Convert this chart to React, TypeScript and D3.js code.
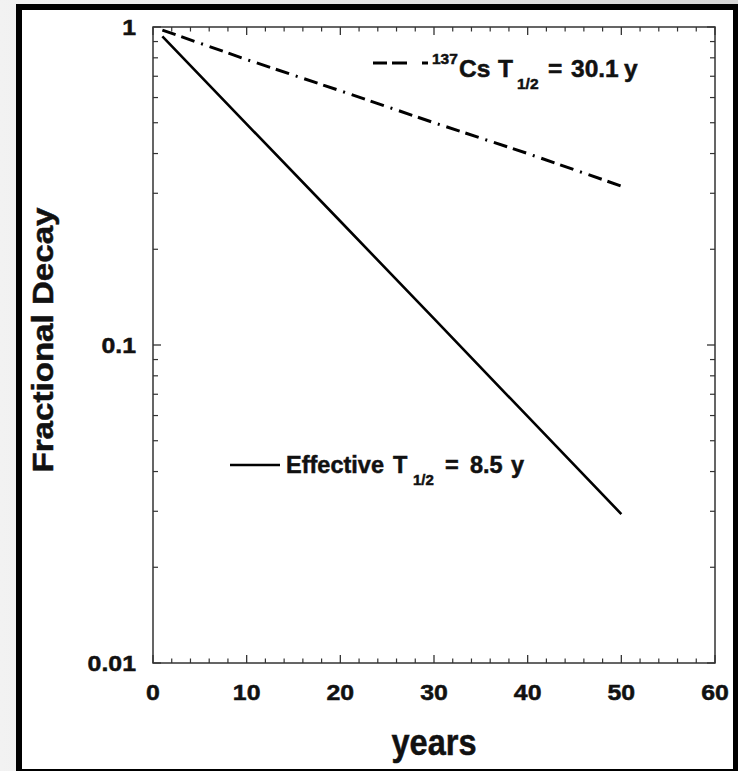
import React from "react";
import * as d3 from "d3";

const years = [1, 10, 20, 30, 40, 50];
const csValues = [0.978, 0.79, 0.63, 0.5, 0.4, 0.316];
const effValues = [0.935, 0.495, 0.245, 0.121, 0.0596, 0.0294];
const xTickValues = [0, 10, 20, 30, 40, 50, 60];
const yTickValues = [1, 0.1, 0.01];
const yTickLabels = ["1", "0.1", "0.01"];

const W = 738;
const H = 771;
const L = 153, R = 715, T = 27, B = 663;
const FONT = "'Liberation Sans', Arial, Helvetica, sans-serif";

export default function App() {
  const x = d3.scaleLinear().domain([0, 60]).range([L, R]);
  const y = d3.scaleLog().domain([0.01, 1]).range([B, T]);
  const line = d3
    .line<number>()
    .x((_, i) => x(years[i]))
    .y((d) => y(d));

  const xMinor = d3.range(0, 61, 2).filter((v) => v % 10 !== 0);
  const yMinor: number[] = [];
  [0.01, 0.1].forEach((dec) => {
    for (let k = 2; k <= 9; k++) yMinor.push(dec * k);
  });

  const axisColor = "#333";
  const txt = "#111";
  const heavy = { stroke: txt, strokeWidth: 0.5 };

  return (
    <div style={{ position: "absolute", left: 0, top: 0 }}>
      <svg width={W} height={H} style={{ display: "block" }}>
        <defs>
          <linearGradient id="bg" x1="0" y1="0" x2="1" y2="0">
            <stop offset="0" stopColor="#f2f2f2" />
            <stop offset="1" stopColor="#d6d6d6" />
          </linearGradient>
        </defs>
        <rect x={0} y={0} width={W} height={H} fill="url(#bg)" />
        <rect x={16} y={4} width={W - 16} height={H - 4} fill="#000" />
        <rect x={22} y={10} width={733 - 22} height={769 - 10} fill="#fff" />

        {/* plot frame */}
        <rect x={L} y={T} width={R - L} height={B - T} fill="none" stroke={axisColor} strokeWidth={1.5} />

        {/* x ticks bottom & top */}
        {xTickValues.map((v) => (
          <g key={"xt" + v}>
            <line x1={x(v)} x2={x(v)} y1={B} y2={B - 8} stroke={axisColor} strokeWidth={1.3} />
            <line x1={x(v)} x2={x(v)} y1={T} y2={T + 8} stroke={axisColor} strokeWidth={1.3} />
          </g>
        ))}
        {xMinor.map((v) => (
          <g key={"xm" + v}>
            <line x1={x(v)} x2={x(v)} y1={B} y2={B - 4.5} stroke={axisColor} strokeWidth={1.2} />
            <line x1={x(v)} x2={x(v)} y1={T} y2={T + 4.5} stroke={axisColor} strokeWidth={1.2} />
          </g>
        ))}
        {/* y ticks left & right */}
        {yTickValues.map((v) => (
          <g key={"yt" + v}>
            <line x1={L} x2={L + 8} y1={y(v)} y2={y(v)} stroke={axisColor} strokeWidth={1.3} />
            <line x1={R} x2={R - 8} y1={y(v)} y2={y(v)} stroke={axisColor} strokeWidth={1.3} />
          </g>
        ))}
        {yMinor.map((v) => (
          <g key={"ym" + v}>
            <line x1={L} x2={L + 5} y1={y(v)} y2={y(v)} stroke={axisColor} strokeWidth={1.2} />
            <line x1={R} x2={R - 5} y1={y(v)} y2={y(v)} stroke={axisColor} strokeWidth={1.2} />
          </g>
        ))}

        {/* tick labels */}
        {xTickValues.map((v) => (
          <text
            key={"xl" + v}
            transform={`translate(${x(v)},700) scale(1.13,1)`}
            textAnchor="middle"
            fontFamily={FONT}
            fontWeight="bold"
            fontSize={22}
            fill={txt}
            {...heavy}
          >
            {String(v)}
          </text>
        ))}
        {yTickValues.map((v, i) => (
          <text
            key={"yl" + v}
            transform={`translate(136,${y(v) + 8}) scale(1.13,1)`}
            textAnchor="end"
            fontFamily={FONT}
            fontWeight="bold"
            fontSize={22}
            fill={txt}
            {...heavy}
          >
            {yTickLabels[i]}
          </text>
        ))}

        {/* axis titles */}
        <text
          x={434}
          y={755}
          textAnchor="middle"
          fontFamily={FONT}
          fontWeight="bold"
          fontSize={36}
          textLength={85}
          lengthAdjust="spacingAndGlyphs"
          fill={txt}
          {...heavy}
        >
          years
        </text>
        <text
          transform="translate(53,340) rotate(-90)"
          textAnchor="middle"
          fontFamily={FONT}
          fontWeight="bold"
          fontSize={29}
          textLength={265}
          lengthAdjust="spacingAndGlyphs"
          fill={txt}
          {...heavy}
        >
          Fractional Decay
        </text>

        {/* series */}
        <path d={line(csValues) || ""} fill="none" stroke="#000" strokeWidth={3} strokeDasharray="14 6 14 7 2 7" />
        <path d={line(effValues) || ""} fill="none" stroke="#000" strokeWidth={2.6} />

        {/* legends */}
        <line x1={373} x2={428} y1={63} y2={63} stroke="#000" strokeWidth={3} strokeDasharray="14 5 15 15 6 40" />
        <text fontFamily={FONT} fontWeight="bold" fontSize={24.5} fill={txt} {...heavy}>
          <tspan x={432} y={64} fontSize={15.5}>137</tspan>
          <tspan x={459} y={77}>Cs</tspan>
          <tspan x={498} y={77}>T</tspan>
          <tspan x={517} y={89} fontSize={15.5}>1/2</tspan>
          <tspan x={548} y={77}>=</tspan>
          <tspan x={571} y={77}>30.1</tspan>
          <tspan x={624} y={77}>y</tspan>
        </text>

        <line x1={230} x2={280} y1={465} y2={465} stroke="#000" strokeWidth={2.6} />
        <text fontFamily={FONT} fontWeight="bold" fontSize={23.5} fill={txt} {...heavy}>
          <tspan x={286} y={473}>Effective</tspan>
          <tspan x={393} y={473}>T</tspan>
          <tspan x={413} y={485} fontSize={15}>1/2</tspan>
          <tspan x={445} y={473}>=</tspan>
          <tspan x={470} y={473}>8.5</tspan>
          <tspan x={511} y={473}>y</tspan>
        </text>
      </svg>
    </div>
  );
}
